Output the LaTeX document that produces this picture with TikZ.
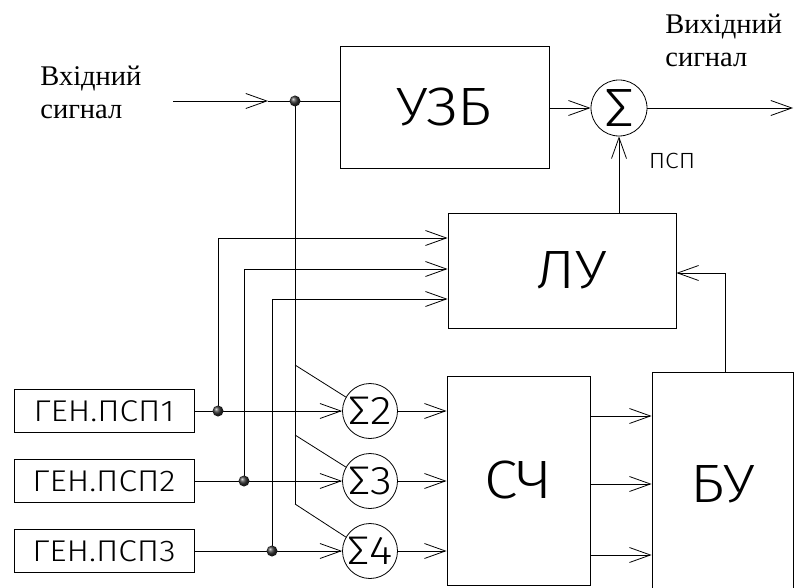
\documentclass[tikz,border=0pt]{standalone}
\usepackage{fontspec}
\setmainfont{Liberation Serif}
\newfontfamily\cadfont{Fira Sans Light}[FakeStretch=1.12]
\usetikzlibrary{arrows.meta,calc}
\newcommand\cadsize[1]{\cadfont\fontsize{#1}{#1}\selectfont}

\begin{document}
\begin{tikzpicture}[
  x=1pt, y=-1pt, line width=0.8pt,
  >={Straight Barb[length=21pt,width=15pt]},
  blk/.style={draw,inner sep=0pt,font=\cadsize{54}},
  gen/.style={draw,inner sep=0pt,minimum width=180pt,minimum height=43pt,font=\cadsize{30}},
  summ/.style={circle,draw,inner sep=0pt,minimum size=55pt,font=\cadsize{40}},
  joint/.style={circle,inner sep=0pt,minimum size=11pt,ball color=black!80},
  sigtext/.style={font=\fontsize{28.5}{33}\selectfont,align=left,inner sep=0pt},
  sig/.style={->},
]
\useasboundingbox (0,0) rectangle (795,588);

\node[blk,minimum width=209pt,minimum height=122pt] (uzb) at (444.5,107) {УЗБ};
\node[blk,minimum width=228pt,minimum height=115pt] (lu) at (562,270.5) {\hspace*{20pt}ЛУ};
\node[blk,minimum width=143pt,minimum height=209pt] (sch) at (518.5,480.5) {СЧ};
\node[blk,minimum width=141pt,minimum height=224pt] (bu) at (722.5,484) {БУ};
\node[summ,minimum size=56pt,font=\cadsize{54}] (sum) at (619,108) {Σ};
\node[font=\cadsize{22},inner sep=0pt] (psp) at (672,161) {ПСП};

\node[sigtext,anchor=north west] (inlbl) at (40,66) {Вхідний\\сигнал};
\node[sigtext,anchor=north west] (outlbl) at (665,14) {Вихідний\\сигнал};

\coordinate (inA) at (173,101);
\coordinate (inTip) at (268,101);
\coordinate (tap) at (295,101);
\coordinate (outTip) at (793,108);
\coordinate (fb) at (725,273);

\draw[sig] (inA) -- (inTip);
\draw (inTip) -- (inTip -| uzb.west);
\draw[sig] (uzb.east |- sum) -- (sum);
\draw[sig] (sum) -- (outTip);
\draw[sig] (sum |- lu.north) -- (sum);
\draw[sig] (fb |- bu.north) -- (fb) -- (fb -| lu.east);

\foreach \n/\m/\y/\x/\t/\ly in {1/2/411/218/365/238,2/3/481/244/435/269,3/4/551/272/504/299}{
  \node[gen] (g\n) at (104,\y) {ГЕН.ПСП\n};
  \node[summ] (s\m) at (370,\y) {Σ\m};
  \coordinate (c\n) at (\x,\y);
  \coordinate (t\n) at (295,\t);
  \draw[sig] (g\n) -- (s\m);
  \draw[sig] (s\m) -- (s\m -| sch.west);
  \draw[sig] (c\n) |- (lu.west |- 0,\ly);
  \draw (t\n) -- (s\m.150);
}
\draw (tap) -- (t3);

\foreach \y in {416,484,555}
  \draw[sig] (sch.east |- 0,\y) -- (bu.west |- 0,\y);

\foreach \n in {1,2,3}
  \node[joint] (d\n) at (c\n) {};
\node[joint] (tapdot) at (tap) {};
\end{tikzpicture}
\end{document}
